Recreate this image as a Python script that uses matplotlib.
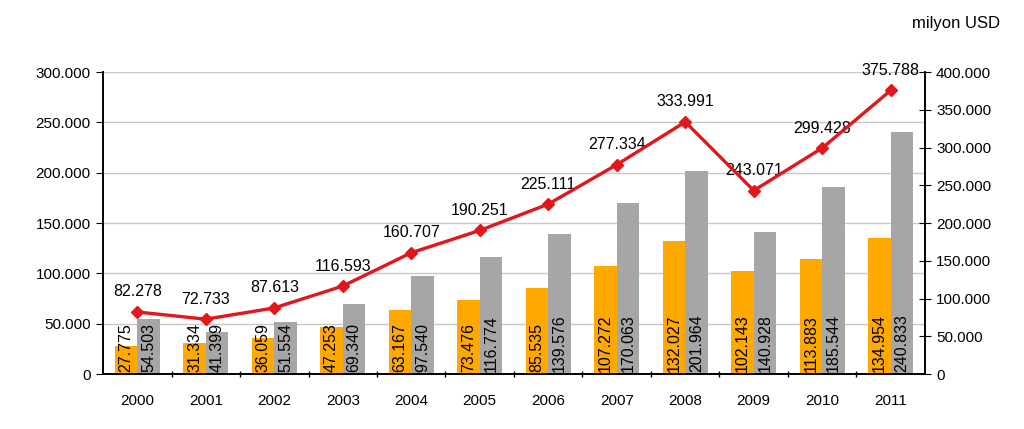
import matplotlib.pyplot as plt
from matplotlib.ticker import FuncFormatter
import numpy as np

plt.rcParams['font.family'] = ['Liberation Sans', 'DejaVu Sans']

years = ['2000', '2001', '2002', '2003', '2004', '2005', '2006', '2007', '2008', '2009', '2010', '2011']
exports = [27775, 31334, 36059, 47253, 63167, 73476, 85535, 107272, 132027, 102143, 113883, 134954]
imports = [54503, 41399, 51554, 69340, 97540, 116774, 139576, 170063, 201964, 140928, 185544, 240833]
total = [82278, 72733, 87613, 116593, 160707, 190251, 225111, 277334, 333991, 243071, 299428, 375788]


def fmt(v):
    return f"{int(v):,}".replace(',', '.')


fig = plt.figure(figsize=(10.24, 4.29), dpi=100)
ax = fig.add_axes([0.1006, 0.128, 0.8027, 0.704])
ax2 = ax.twinx()

x = np.arange(len(years))
w = 0.33
b1 = ax.bar(x - w / 2, exports, w, color='#FFA800', zorder=2)
b2 = ax.bar(x + w / 2, imports, w, color='#A6A6A6', zorder=2)
for bars, vals in ((b1, exports), (b2, imports)):
    for r, v in zip(bars, vals):
        ax.text(r.get_x() + r.get_width() / 2, 2500, fmt(v), rotation=90,
                ha='center', va='bottom', fontsize=11.5, zorder=3)

ax.set_xlim(-0.5, len(years) - 0.5)
ax.set_ylim(0, 300000)
ax.set_yticks(np.arange(0, 300001, 50000))
ax.yaxis.set_major_formatter(FuncFormatter(lambda v, p: fmt(v)))
ax.grid(axis='y', color='#C8C8C8', linewidth=1, zorder=0)
ax.set_axisbelow(True)
ax.set_xticks(x)
ax.set_xticklabels(years)
ax.set_xticks(np.arange(0.5, len(years) - 1, 1), minor=True)
ax.tick_params(axis='x', which='major', length=0, pad=14, labelsize=11)
ax.tick_params(axis='x', which='minor', length=5, direction='inout', width=1)
ax.tick_params(axis='y', labelsize=11, length=5, pad=4)

# toplam ticaret cizgisi (sag eksen)
ax2.plot(x, total, color='#E3161C', linewidth=2.4, marker='D', markersize=6, zorder=4)
for xi, v in zip(x, total):
    ax2.annotate(fmt(v), (xi, v), xytext=(0, 9), textcoords='offset points',
                 ha='center', va='bottom', fontsize=11.5)
ax2.set_ylim(0, 400000)
ax2.set_yticks(np.arange(0, 400001, 50000))
ax2.yaxis.set_major_formatter(FuncFormatter(lambda v, p: fmt(v)))
ax2.tick_params(axis='y', labelsize=11, length=8, direction='inout', pad=4)

for a in (ax, ax2):
    a.spines['top'].set_visible(False)
    for s in ('left', 'right', 'bottom'):
        a.spines[s].set_linewidth(1.2)

fig.text(0.977, 0.945, 'milyon USD', ha='right', va='center', fontsize=12)

fig.savefig('out.png', dpi=100)
